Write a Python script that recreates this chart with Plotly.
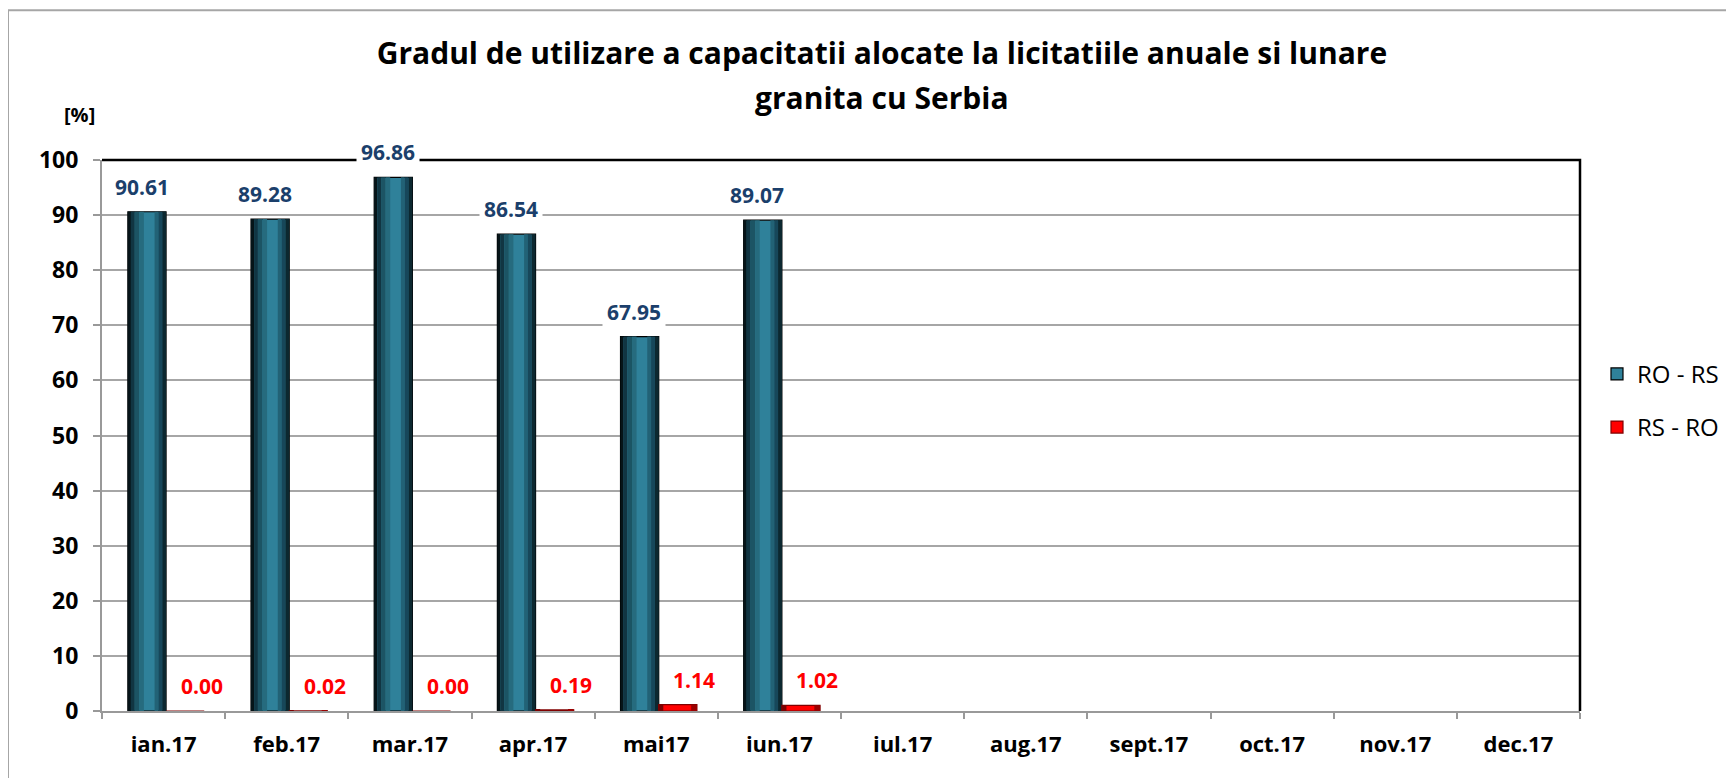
import plotly.graph_objects as go

# Luni 2017
months = ["ian.17", "feb.17", "mar.17", "apr.17", "mai17", "iun.17",
          "iul.17", "aug.17", "sept.17", "oct.17", "nov.17", "dec.17"]

# Gradul de utilizare [%]
ro_rs = [90.61, 89.28, 96.86, 86.54, 67.95, 89.07, None, None, None, None, None, None]
rs_ro = [0.00, 0.02, 0.00, 0.19, 1.14, 1.02, None, None, None, None, None, None]

BAR_W = 0.31
FONT = "Open Sans"

# cylinder-like shading: (start, end) as fraction of bar width, colour
blue_strips = [
    (0.00, 0.08, "#061418"), (0.08, 0.18, "#113542"), (0.18, 0.30, "#1C5464"),
    (0.30, 0.42, "#266B7E"), (0.70, 0.80, "#226276"), (0.80, 0.90, "#17475A"),
    (0.90, 1.00, "#0C2830"),
]
red_strips = [(0.00, 0.12, "#7A0000"), (0.85, 1.00, "#9A0000")]


def add_series(fig, values, name, base_color, edge_color, strips, offset):
    # main bar (also used for the legend)
    fig.add_trace(go.Bar(
        x=months, y=values, name=name, legendgroup=name,
        width=BAR_W, offset=offset,
        marker=dict(color=base_color, line=dict(color=edge_color, width=1.2)),
    ))
    # darker strips laid over the edges
    for s0, s1, col in strips:
        fig.add_trace(go.Bar(
            x=months, y=values, showlegend=False, legendgroup=name,
            width=BAR_W * (s1 - s0), offset=offset + BAR_W * s0,
            marker=dict(color=col, line=dict(width=0)),
            hoverinfo="skip",
        ))


fig = go.Figure()
add_series(fig, ro_rs, "RO - RS", "#2F819A", "#000000", blue_strips, -0.29)
add_series(fig, rs_ro, "RS - RO", "#FF0000", "#800000", red_strips, 0.02)

# data labels with white background
for m, v in zip(months, ro_rs):
    if v is None:
        continue
    fig.add_annotation(x=m, y=v, text=f"<b>{v:.2f}</b>", showarrow=False,
                       xshift=-22, yshift=25, yanchor="middle",
                       bgcolor="white", borderpad=4,
                       font=dict(family=FONT, size=21, color="#1B3F6B"))
for m, v in zip(months, rs_ro):
    if v is None:
        continue
    fig.add_annotation(x=m, y=v, text=f"<b>{v:.2f}</b>", showarrow=False,
                       xshift=38, yshift=25, yanchor="middle",
                       bgcolor="white", borderpad=4,
                       font=dict(family=FONT, size=21, color="#FF0000"))

# second title line and unit label
fig.add_annotation(xref="paper", yref="paper", x=0.5277, y=1.1143,
                   text="<b>granita cu Serbia</b>", showarrow=False,
                   xanchor="center", yanchor="middle",
                   font=dict(family=FONT, size=30, color="black"))
fig.add_annotation(xref="paper", yref="paper", x=-0.0149, y=1.0817,
                   text="<b>[%]</b>", showarrow=False,
                   xanchor="center", yanchor="middle",
                   font=dict(family=FONT, size=20, color="black"))

# black frame on top/right of plot area, grey outer border
fig.add_shape(type="path", xref="paper", yref="paper",
              path="M 0 1 L 1 1 L 1 0", line=dict(color="black", width=2.5))
fig.add_shape(type="rect", xref="paper", yref="paper",
              x0=-0.0636, x1=1.3, y0=-0.3, y1=1.272,
              line=dict(color="#A6A6A6", width=2), layer="below")

# the page adds an 8px body margin, so everything is placed 8px up/left
fig.update_layout(
    width=1734, height=778,
    margin=dict(l=94, r=162, t=152, b=75),
    paper_bgcolor="white", plot_bgcolor="white",
    barmode="overlay",
    title=dict(text="<b>Gradul de utilizare a capacitatii alocate la licitatiile anuale si lunare</b>",
               x=0.504, xref="container", y=0.942, yref="container",
               xanchor="center", yanchor="middle",
               font=dict(family=FONT, size=30, color="black")),
    showlegend=True,
    legend=dict(x=1.0115, xanchor="left", y=0.563, yanchor="middle",
                tracegroupgap=19, bgcolor="rgba(0,0,0,0)",
                font=dict(family=FONT, size=24, color="black")),
    xaxis=dict(type="category", categoryorder="array", categoryarray=months,
               showline=True, linecolor="#999999", linewidth=2,
               ticks="outside", tickson="boundaries", ticklen=6, tickcolor="#999999",
               tickwidth=1.5, ticklabelstandoff=13, showgrid=False,
               tickfont=dict(family=FONT, size=22, color="black", weight="bold")),
    yaxis=dict(range=[0, 100], dtick=10, showline=True, linecolor="#999999", linewidth=2,
               ticks="outside", ticklen=7, tickcolor="#999999", tickwidth=1.5,
               ticklabelstandoff=10, showgrid=True, gridcolor="#A6A6A6", gridwidth=2,
               zeroline=False,
               tickfont=dict(family=FONT, size=23, color="black", weight="bold")),
)

fig.write_html("out.html")
